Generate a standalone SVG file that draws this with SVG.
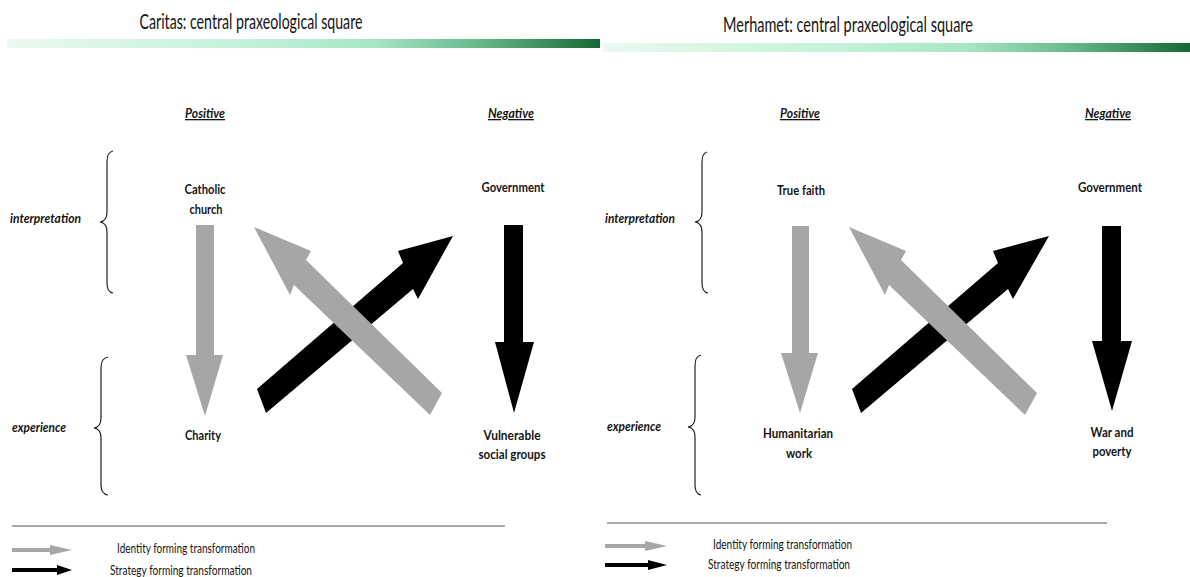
<svg xmlns="http://www.w3.org/2000/svg" width="1190" height="577" viewBox="0 0 1190 577">
<defs>
<linearGradient id="bar" x1="0" y1="0" x2="1" y2="0">
<stop offset="0" stop-color="#ecf8f1"/>
<stop offset="0.4" stop-color="#c2f2d9"/>
<stop offset="0.62" stop-color="#a6e6c4"/>
<stop offset="0.8" stop-color="#66b888"/>
<stop offset="1" stop-color="#166934"/>
</linearGradient>
<style>
text{font-family:Lato,"Liberation Sans",sans-serif;fill:#151515}
.title{font-size:20.5px}
.head{font-size:13px;font-weight:bold;font-style:italic;text-decoration:underline;text-anchor:middle}
.lbl{font-size:13.5px;font-weight:bold;text-anchor:middle}
.side{font-size:12.5px;font-style:italic;font-weight:bold}
.leg{font-size:13px}
.brace{fill:none;stroke:#222;stroke-width:1.2}
.gray{fill:#a6a6a6}
.black{fill:#000}
.rule{stroke:#555;stroke-width:1}
</style>
</defs>
<rect width="1190" height="577" fill="#fff"/>

<g id="left-header">
<text class="title" x="251" y="29" text-anchor="middle" textLength="223" lengthAdjust="spacingAndGlyphs">Caritas: central praxeological square</text>
<rect x="7" y="39" width="593" height="9" fill="url(#bar)"/>
</g>
<g id="right-header">
<text class="title" x="848" y="32" text-anchor="middle" textLength="250" lengthAdjust="spacingAndGlyphs">Merhamet: central praxeological square</text>
<rect x="603" y="43" width="587" height="9" fill="url(#bar)"/>
</g>

<g id="left-axes">
<text class="head" x="205" y="118" textLength="40" lengthAdjust="spacingAndGlyphs">Positive</text>
<text class="head" x="511" y="118" textLength="46" lengthAdjust="spacingAndGlyphs">Negative</text>
<text class="side" x="10" y="223" textLength="71" lengthAdjust="spacingAndGlyphs">interpretation</text>
<text class="side" x="12" y="432" textLength="54" lengthAdjust="spacingAndGlyphs">experience</text>
<path class="brace" d="M113,151 Q107,152 107,162 L107,212 Q107,221 100,222 Q107,223 107,232 L107,283 Q107,292 113,293"/>
<path class="brace" d="M108,357 Q101,358 101,368 L101,418 Q101,427 94,428 Q101,429 101,438 L101,485 Q101,494 108,495"/>
</g>

<g id="node-catholic-church"><text class="lbl" x="205" y="194" textLength="41" lengthAdjust="spacingAndGlyphs">Catholic</text><text class="lbl" x="206" y="214" textLength="33" lengthAdjust="spacingAndGlyphs">church</text></g>
<g id="node-government-left"><text class="lbl" x="513" y="192" textLength="63" lengthAdjust="spacingAndGlyphs">Government</text></g>
<g id="node-charity"><text class="lbl" x="203" y="440" textLength="36" lengthAdjust="spacingAndGlyphs">Charity</text></g>
<g id="node-vulnerable"><text class="lbl" x="512" y="440" textLength="57" lengthAdjust="spacingAndGlyphs">Vulnerable</text><text class="lbl" x="512" y="459" textLength="67" lengthAdjust="spacingAndGlyphs">social groups</text></g>

<g id="right-axes">
<text class="head" x="800" y="118" textLength="40" lengthAdjust="spacingAndGlyphs">Positive</text>
<text class="head" x="1108" y="118" textLength="46" lengthAdjust="spacingAndGlyphs">Negative</text>
<text class="side" x="605" y="223" textLength="70" lengthAdjust="spacingAndGlyphs">interpretation</text>
<text class="side" x="607" y="431" textLength="54" lengthAdjust="spacingAndGlyphs">experience</text>
<path class="brace" d="M707,152 Q702,153 702,163 L702,212 Q702,221 695,222 Q702,223 702,232 L702,283 Q702,292 708,293"/>
<path class="brace" d="M701,355 Q695,356 695,366 L695,417 Q695,426 688,427 Q695,428 695,437 L695,485 Q695,494 701,495"/>
</g>

<g id="node-true-faith"><text class="lbl" x="801" y="195" textLength="48" lengthAdjust="spacingAndGlyphs">True faith</text></g>
<g id="node-government-right"><text class="lbl" x="1110" y="192" textLength="64" lengthAdjust="spacingAndGlyphs">Government</text></g>
<g id="node-humanitarian"><text class="lbl" x="798" y="438" textLength="70" lengthAdjust="spacingAndGlyphs">Humanitarian</text><text class="lbl" x="799" y="458" textLength="26" lengthAdjust="spacingAndGlyphs">work</text></g>
<g id="node-war"><text class="lbl" x="1112" y="437" textLength="43" lengthAdjust="spacingAndGlyphs">War and</text><text class="lbl" x="1112" y="456" textLength="39" lengthAdjust="spacingAndGlyphs">poverty</text></g>

<g id="connectors">
<polygon class="gray" points="196,225 214,225 214,355 223,355 205,416 186,355 196,355"/>
<polygon class="black" points="504,225 523,225 523,342 534,342 514,413 495,342 504,342"/>
<polygon class="black" points="257,389 403,263 398,251 453,236 418,299 413,289 266,413"/>
<polygon class="gray" points="254,227 311,251 306,260 442,393 430,415 294,285 290,295"/>

<polygon class="gray" points="792,226 809,226 809,353 818,353 800,413 781,353 792,353"/>
<polygon class="black" points="1102,226 1121,226 1121,341 1132,341 1112,411 1092,341 1102,341"/>
<g transform="translate(595,0)">
<polygon class="black" points="257,389 403,263 398,251 454,236 418,299 413,289 266,413"/>
<polygon class="gray" points="254,227 311,251 306,260 442,393 430,415 294,285 290,295"/>
</g>
</g>

<g id="left-legend">
<line class="rule" x1="12" y1="526" x2="505" y2="526"/>
<polygon class="gray" points="12,548 50,548 50,545 72,550 50,555 50,552 12,552"/>
<polygon class="black" points="12,568 57,568 57,565 72,570 57,575 57,572 12,572"/>
<text class="leg" x="117" y="553" textLength="138" lengthAdjust="spacingAndGlyphs">Identity forming transformation</text>
<text class="leg" x="110" y="575" textLength="142" lengthAdjust="spacingAndGlyphs">Strategy forming transformation</text>
</g>
<g id="right-legend">
<line class="rule" x1="607" y1="523" x2="1107" y2="523"/>
<polygon class="gray" points="605,544 645,544 645,541 667,546 645,551 645,548 605,548"/>
<polygon class="black" points="605,563 648,563 648,560 667,565 648,570 648,567 605,567"/>
<text class="leg" x="713" y="549" textLength="139" lengthAdjust="spacingAndGlyphs">Identity forming transformation</text>
<text class="leg" x="708" y="569" textLength="142" lengthAdjust="spacingAndGlyphs">Strategy forming transformation</text>
</g>
</svg>
